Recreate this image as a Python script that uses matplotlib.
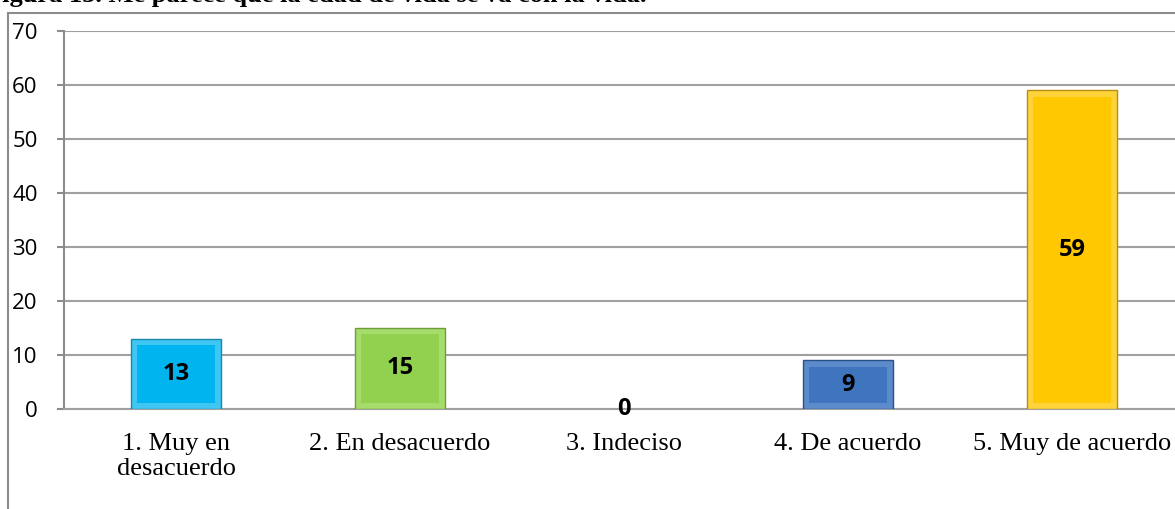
import matplotlib.pyplot as plt
from matplotlib.patches import Rectangle

categories = ['1. Muy en\ndesacuerdo', '2. En desacuerdo', '3. Indeciso', '4. De acuerdo', '5. Muy de acuerdo']
values = [13, 15, 0, 9, 59]
colors = ['#00B4F0', '#92D050', '#4F81BD', '#3E75BE', '#FFC800']
bevel_colors = ['#40C6F3', '#A6DC6C', '#6F98CF', '#5B8BCB', '#FFD43A']
edge_colors = ['#1A86AA', '#6E9E3A', '#355E8F', '#2A5187', '#B58E10']
yticks = [0, 10, 20, 30, 40, 50, 60, 70]

fig = plt.figure(figsize=(11.75, 5.09), dpi=100)

# outer chart frame (cut off on the right/bottom)
fig.patches.append(Rectangle((8 / 1175, -0.1), 1.2, 1 - 13 / 509 + 0.1, transform=fig.transFigure,
                             fill=False, edgecolor='#8C8C8C', linewidth=1.5))

# caption at the top, mostly cut off like in the source
fig.text(-14 / 1175, 1 - 2 / 509, 'Figura 13. Me parece que la edad de vida se va con la vida.',
         fontsize=19, fontweight='bold', family='Liberation Serif', va='baseline', ha='left')

ax = fig.add_axes([64 / 1175, 100 / 509, 1120 / 1175, 378 / 509])
x = list(range(len(values)))
bw = 0.4
lws = [1.0 if v > 0 else 0 for v in values]
ax.bar(x, values, width=bw, color=bevel_colors, edgecolor=edge_colors, linewidth=lws, zorder=3)
# inner face for a bevelled look
dx = 0.025
dy = 1.2
inner = [max(v - 2 * dy, 0) if v > 0 else 0 for v in values]
ax.bar(x, inner, width=bw - 2 * dx, bottom=dy, color=colors, linewidth=0, zorder=3.5)

for xi, v in zip(x, values):
    ax.text(xi, v / 2, str(v), ha='center', va='center', fontsize=17, fontweight='bold',
            family='Open Sans', zorder=4)

ax.set_xlim(-0.5, 4.5)
ax.set_ylim(0, 70)
ax.set_yticks(yticks)
ax.set_yticklabels([str(t) for t in yticks], family='Open Sans', fontsize=16)
ax.set_xticks(x)
ax.set_xticklabels(categories, family='Liberation Serif', fontsize=19, linespacing=1.2)
ax.tick_params(axis='x', length=0, pad=17)
ax.tick_params(axis='y', length=5, color='#8C8C8C', width=1.5, pad=14)

ax.grid(axis='y', color='#A0A0A0', linewidth=1.5, zorder=0)
ax.set_axisbelow(True)
for s in ['top', 'right']:
    ax.spines[s].set_visible(False)
ax.spines['left'].set_color('#8C8C8C')
ax.spines['left'].set_linewidth(1.5)
ax.spines['bottom'].set_color('#A0A0A0')
ax.spines['bottom'].set_linewidth(1.5)

fig.savefig('out.png', dpi=100)
